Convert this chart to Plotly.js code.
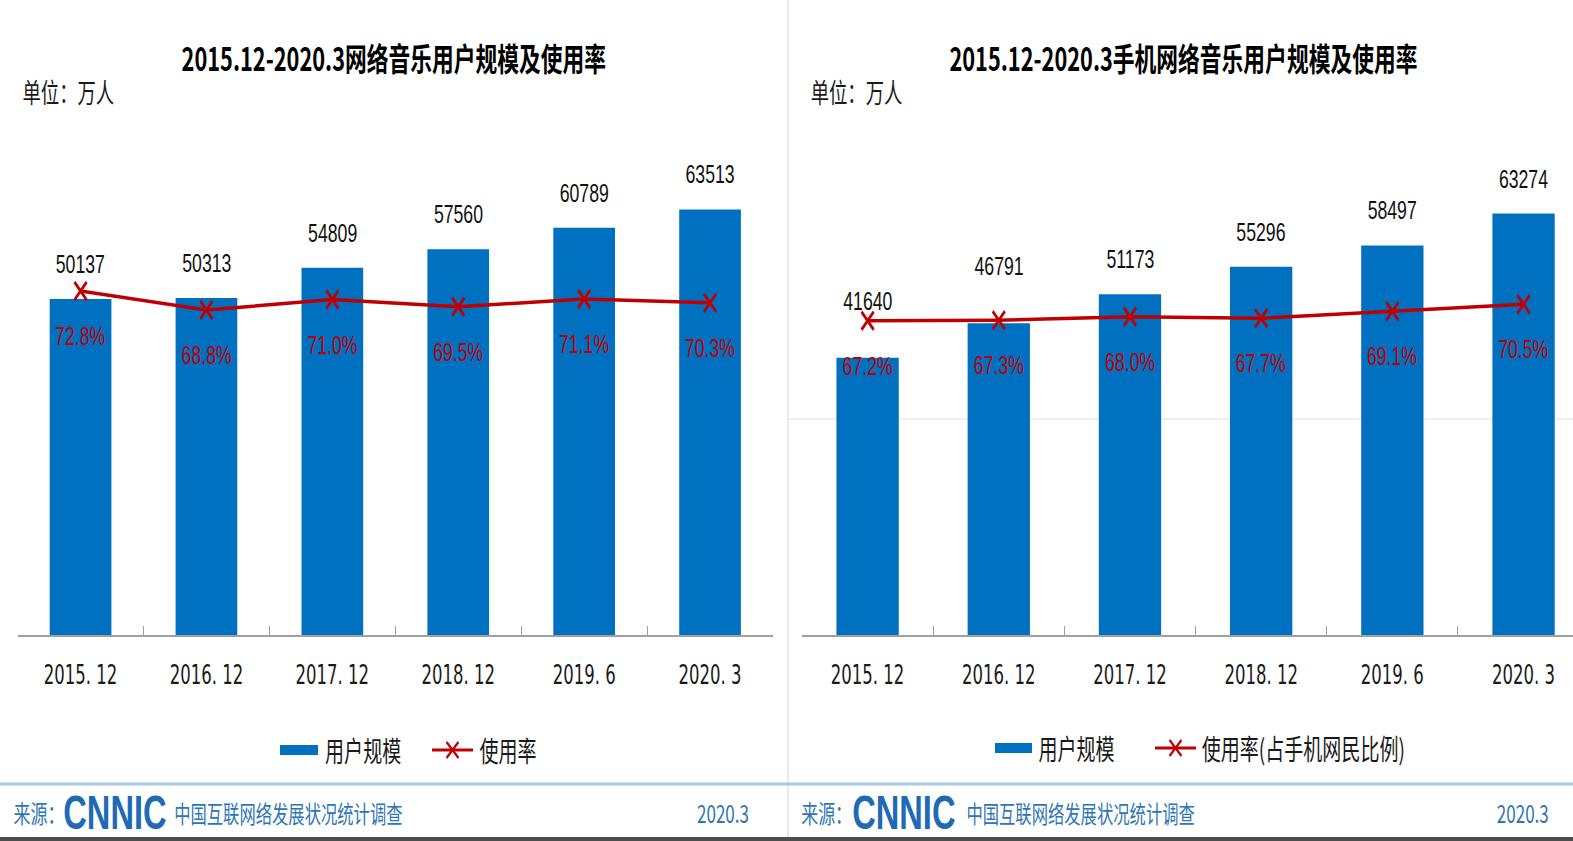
<!DOCTYPE html>
<html>
<head>
<meta charset="utf-8">
<script src="https://cdn.plot.ly/plotly-3.0.1.min.js"></script>
<style>
html,body{margin:0;padding:0;overflow:hidden;background:#ffffff;}
#wrap{width:1573px;height:841px;overflow:hidden;position:relative;background:#ffffff;}
#chart{width:2313px;height:841px;transform-origin:0 0;}
</style>
</head>
<body>
<div id="wrap"><div id="chart"></div></div>
<script>
// ---------------- data ----------------
const categories = ['2015. 12', '2016. 12', '2017. 12', '2018. 12', '2019. 6', '2020. 3'];
const musicUsers = [50137, 50313, 54809, 57560, 60789, 63513];
const musicRate = [72.8, 68.8, 71.0, 69.5, 71.1, 70.3];
const mobileMusicUsers = [41640, 46791, 51173, 55296, 58497, 63274];
const mobileMusicRate = [67.2, 67.3, 68.0, 67.7, 69.1, 70.5];

const titleLeft = '2015.12-2020.3网络音乐用户规模及使用率';
const titleRight = '2015.12-2020.3手机网络音乐用户规模及使用率';
const unitText = '单位：万人';
const legendUsers = '用户规模';
const legendRateLeft = '使用率';
const legendRateRight = '使用率(占手机网民比例)';
const sourceLabel = '来源：';
const logoText = 'CNNIC';
const surveyText = '中国互联网络发展状况统计调查';
const dateText = '2020.3';

// ---------------- layout helpers ----------------
const REFW = 1573, H = 841, W = 2313;
const S = REFW / W;                 // horizontal condensing of the whole picture
document.getElementById('chart').style.transform = 'scaleX(' + S + ')';
const fx = v => v / REFW;           // picture px -> paper x
const fy = v => (H - v) / H;        // picture px -> paper y

const BLUE = '#0070C0', RED = '#C00000';
const CJK = 'Noto Sans CJK SC, sans-serif';
const NUM = 'Liberation Sans, Arial, sans-serif';
const NARROW = 'DejaVu Sans Condensed, Liberation Sans, sans-serif';
const FOOTBLUE = '#2E75B6';

const yDom = [fy(635), fy(135)];
const leftUsersRange = [0, 74627];
const leftRateRange = [0.38, 105.64];
const rightUsersRange = [0, 75075];
const rightRateRange = [4.36, 104.36];

const panels = [
  {users: musicUsers, rate: musicRate, xa: 'x', ya: 'y', yr: 'y2', barW: 0.49,
   usersRange: leftUsersRange, rateRange: leftRateRange, liftIdx: [],
   title: titleLeft, centre: 393.5, unitX: 21, legendRate: legendRateLeft,
   leg: {rect: [280, 318], txt1: 324, line: [432, 473], txt2: 478, y: 750},
   foot: {src: 12, logo: 62, survey: 173, date: 750}},
  {users: mobileMusicUsers, rate: mobileMusicRate, xa: 'x2', ya: 'y3', yr: 'y4', barW: 0.475,
   usersRange: rightUsersRange, rateRange: rightRateRange, liftIdx: [0, 1],
   title: titleRight, centre: 1183, unitX: 809, legendRate: legendRateRight,
   leg: {rect: [995, 1032], txt1: 1037, line: [1155, 1196], txt2: 1200, y: 748},
   foot: {src: 800, logo: 851, survey: 965, date: 1550}}
];

const traces = [];
const annotations = [];
const shapes = [];

// background decorations
shapes.push({type: 'line', xref: 'paper', yref: 'paper', x0: fx(788), x1: fx(788), y0: 0, y1: 1,
             line: {color: '#d6d6d6', width: 1.5}, layer: 'below'});
shapes.push({type: 'line', xref: 'paper', yref: 'paper', x0: fx(788), x1: 1, y0: fy(419), y1: fy(419),
             line: {color: '#d9d9d9', width: 1}, layer: 'below'});
shapes.push({type: 'line', xref: 'paper', yref: 'paper', x0: 0, x1: 1, y0: fy(784), y1: fy(784),
             line: {color: '#A9C8E8', width: 3}});
shapes.push({type: 'rect', xref: 'paper', yref: 'paper', x0: 0, x1: 1, y0: 0, y1: fy(837),
             line: {width: 0}, fillcolor: '#4d4d4d'});

panels.forEach(p => {
  traces.push({type: 'bar', x: categories, y: p.users, xaxis: p.xa, yaxis: p.ya,
               width: p.barW, marker: {color: BLUE, line: {width: 0}},
               showlegend: false, hoverinfo: 'x+y'});
  traces.push({type: 'scatter', mode: 'lines+markers', x: categories, y: p.rate,
               xaxis: p.xa, yaxis: p.yr, line: {color: RED, width: 3.5},
               marker: {symbol: 'x-thin', size: 18, color: RED, line: {color: RED, width: 3.5}},
               showlegend: false, hoverinfo: 'x+y'});

  // value labels
  p.users.forEach((v, i) => {
    annotations.push({xref: p.xa, yref: p.ya, x: categories[i], y: v,
      yshift: p.liftIdx.indexOf(i) >= 0 ? 57 : 35, yanchor: 'middle',
      text: String(v), showarrow: false, font: {family: NUM, size: 26, color: '#111111'}});
  });
  p.rate.forEach((v, i) => {
    annotations.push({xref: p.xa, yref: p.yr, x: categories[i], y: v,
      yshift: -45, yanchor: 'middle',
      text: v.toFixed(1) + '%', showarrow: false, font: {family: NUM, size: 26, color: RED}});
  });

  // titles
  annotations.push({xref: 'paper', yref: 'paper', x: fx(p.centre), y: fy(57), xanchor: 'center', yanchor: 'middle',
    text: p.title, showarrow: false, font: {family: CJK, size: 32, color: '#000000', weight: 'bold'}});
  annotations.push({xref: 'paper', yref: 'paper', x: fx(p.unitX), y: fy(91), xanchor: 'left', yanchor: 'middle',
    text: unitText, showarrow: false, font: {family: CJK, size: 27, color: '#1a1a1a'}});

  // legend
  const L = p.leg;
  shapes.push({type: 'rect', xref: 'paper', yref: 'paper', x0: fx(L.rect[0]), x1: fx(L.rect[1]),
               y0: fy(L.y + 5), y1: fy(L.y - 5), line: {width: 0}, fillcolor: BLUE});
  shapes.push({type: 'line', xref: 'paper', yref: 'paper', x0: fx(L.line[0]), x1: fx(L.line[1]),
               y0: fy(L.y), y1: fy(L.y), line: {color: RED, width: 3}});
  const cx = (L.line[0] + L.line[1]) / 2;
  shapes.push({type: 'line', xref: 'paper', yref: 'paper', x0: fx(cx - 6), x1: fx(cx + 6),
               y0: fy(L.y - 8), y1: fy(L.y + 8), line: {color: RED, width: 3}});
  shapes.push({type: 'line', xref: 'paper', yref: 'paper', x0: fx(cx - 6), x1: fx(cx + 6),
               y0: fy(L.y + 8), y1: fy(L.y - 8), line: {color: RED, width: 3}});
  annotations.push({xref: 'paper', yref: 'paper', x: fx(L.txt1), y: fy(L.y), xanchor: 'left', yanchor: 'middle',
    text: legendUsers, showarrow: false, font: {family: CJK, size: 28, color: '#1a1a1a'}});
  annotations.push({xref: 'paper', yref: 'paper', x: fx(L.txt2), y: fy(L.y), xanchor: 'left', yanchor: 'middle',
    text: p.legendRate, showarrow: false, font: {family: CJK, size: 28, color: '#1a1a1a'}});

  // footer
  const F = p.foot;
  annotations.push({xref: 'paper', yref: 'paper', x: fx(F.src), y: fy(812), xanchor: 'left', yanchor: 'middle',
    text: sourceLabel, showarrow: false, font: {family: CJK, size: 25, color: FOOTBLUE}});
  annotations.push({xref: 'paper', yref: 'paper', x: fx(F.logo), y: fy(812), xanchor: 'left', yanchor: 'middle',
    text: logoText, showarrow: false, font: {family: NUM, size: 48, color: '#1F6AB5', weight: 'bold'}});
  annotations.push({xref: 'paper', yref: 'paper', x: fx(F.survey), y: fy(812), xanchor: 'left', yanchor: 'middle',
    text: surveyText, showarrow: false, font: {family: CJK, size: 24, color: FOOTBLUE}});
  annotations.push({xref: 'paper', yref: 'paper', x: fx(F.date), y: fy(812), xanchor: 'right', yanchor: 'middle',
    text: dateText, showarrow: false, font: {family: CJK, size: 25, color: FOOTBLUE}});
});

const xBase = {
  type: 'category', showline: true, linecolor: '#a0a0a0', linewidth: 2,
  ticks: 'inside', tickson: 'boundaries', ticklen: 9, tickwidth: 1.5, tickcolor: '#a0a0a0',
  tickfont: {family: NARROW, size: 27, color: '#1a1a1a'}, ticklabelstandoff: 15,
  showgrid: false, zeroline: false, fixedrange: true
};
const yHidden = {visible: false, showgrid: false, zeroline: false, fixedrange: true};

const layout = {
  width: W, height: H, autosize: false,
  margin: {l: 0, r: 0, t: 0, b: 0, pad: 0},
  paper_bgcolor: '#ffffff', plot_bgcolor: 'rgba(0,0,0,0)',
  showlegend: false,
  xaxis: Object.assign({}, xBase, {domain: [fx(17.6), fx(773)], range: [-0.5, 5.5], anchor: 'y'}),
  yaxis: Object.assign({}, yHidden, {domain: yDom, range: leftUsersRange, anchor: 'x'}),
  yaxis2: Object.assign({}, yHidden, {overlaying: 'y', range: leftRateRange, anchor: 'x', side: 'right'}),
  xaxis2: Object.assign({}, xBase, {domain: [fx(802), 1], range: [-0.5, 5.377], anchor: 'y3'}),
  yaxis3: Object.assign({}, yHidden, {domain: yDom, range: rightUsersRange, anchor: 'x2'}),
  yaxis4: Object.assign({}, yHidden, {overlaying: 'y3', range: rightRateRange, anchor: 'x2', side: 'right'}),
  annotations: annotations,
  shapes: shapes
};

Plotly.newPlot('chart', traces, layout, {displayModeBar: false, staticPlot: true});
</script>
</body>
</html>
